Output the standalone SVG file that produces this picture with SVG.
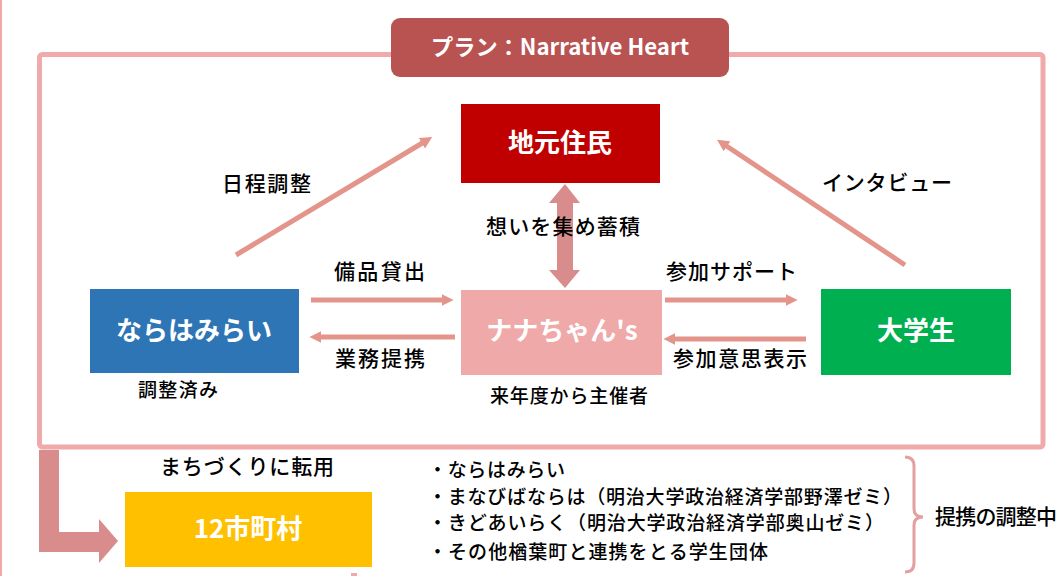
<svg xmlns="http://www.w3.org/2000/svg" width="1064" height="576" viewBox="0 0 1064 576">
<defs>
<style>
.lbl{font-family:"Noto Sans CJK JP","Noto Sans",sans-serif;font-size:21px;font-weight:500;fill:#000;}
.sm{font-size:19px;}
.node{font-family:"Noto Sans CJK JP","Noto Sans",sans-serif;font-size:26px;font-weight:bold;fill:#fff;text-anchor:middle;}
.thin{stroke:#e3958b;stroke-width:5;fill:none;}
.big{fill:#d98c8c;}
</style>
<marker id="ah" viewBox="0 0 10 10" refX="2" refY="5" markerWidth="2.4" markerHeight="2.6" orient="auto" markerUnits="strokeWidth">
<path d="M0,0 L10,5 L0,10 z" fill="#e3958b"/>
</marker>
</defs>
<rect width="1064" height="576" fill="#fff"/>
<line x1="1" y1="0" x2="1" y2="576" stroke="#f0a8a8" stroke-width="2"/>
<g id="frame">
<rect x="39.5" y="54.5" width="1003.5" height="392.5" rx="3" fill="none" stroke="#f0aaaa" stroke-width="5"/>
</g>
<g id="title">
<rect x="391" y="18" width="338" height="59" rx="9" fill="#b85352"/>
<text x="560" y="55" class="node" style="font-size:22px" textLength="258" lengthAdjust="spacingAndGlyphs">プラン：Narrative Heart</text>
</g>
<g id="connectors">
<line class="thin" x1="236" y1="255" x2="424" y2="142" marker-end="url(#ah)"/>
<line class="thin" x1="905" y1="265" x2="725" y2="145" marker-end="url(#ah)"/>
<line class="thin" x1="311" y1="300" x2="444" y2="300" marker-end="url(#ah)"/>
<line class="thin" x1="455" y1="337" x2="319" y2="337" marker-end="url(#ah)"/>
<line class="thin" x1="665" y1="300" x2="788" y2="300" marker-end="url(#ah)"/>
<line class="thin" x1="806" y1="339" x2="673" y2="339" marker-end="url(#ah)"/>
<polygon class="big" points="565,184 580,203 573,203 573,270 580,270 565,288 549,270 557,270 557,203 549,203"/>
<polygon class="big" points="39,450 59,450 59,532 99,532 99,519 118,541 99,563 99,552 39,552"/>
<path d="M905,457 Q914,457 914,466 L914,509 Q914,517 923,517 Q914,517 914,525 L914,563 Q914,572 905,572" fill="none" stroke="#e4a0a0" stroke-width="3"/>
<rect x="351" y="573" width="6" height="3" fill="#f0aaaa"/>
</g>
<g id="n-jimoto">
<rect x="461" y="104" width="199" height="79" fill="#c00000"/>
<text x="560" y="152" class="node">地元住民</text>
</g>
<g id="n-narahamirai">
<rect x="90" y="289" width="209" height="84" fill="#2e75b6"/>
<text x="194" y="340" class="node">ならはみらい</text>
</g>
<g id="n-nana">
<rect x="461" y="290" width="201" height="85" fill="#efa9a9"/>
<text x="562" y="340" class="node">ナナちゃん's</text>
</g>
<g id="n-daigakusei">
<rect x="821" y="289" width="190" height="86" fill="#00b050"/>
<text x="916" y="340" class="node">大学生</text>
</g>
<g id="n-12">
<rect x="125" y="492" width="247" height="75" fill="#ffc000"/>
<text x="248" y="538" class="node">12市町村</text>
</g>
<g id="labels">
<text x="222" y="191" class="lbl" textLength="89">日程調整</text>
<text x="822" y="190" class="lbl" textLength="130">インタビュー</text>
<text x="486" y="234" class="lbl" textLength="154">想いを集め蓄積</text>
<text x="334" y="279" class="lbl" textLength="91">備品貸出</text>
<text x="666" y="279" class="lbl" textLength="131">参加サポート</text>
<text x="335" y="366" class="lbl" textLength="90">業務提携</text>
<text x="673" y="366" class="lbl" textLength="134">参加意思表示</text>
<text x="138" y="397" class="lbl sm" textLength="80">調整済み</text>
<text x="490" y="403" class="lbl sm" textLength="158">来年度から主催者</text>
<text x="160" y="474" class="lbl" textLength="174">まちづくりに転用</text>
<text x="428" y="477" class="lbl sm" textLength="137">・ならはみらい</text>
<text x="428" y="504" class="lbl sm" textLength="474">・まなびばならは（明治大学政治経済学部野澤ゼミ）</text>
<text x="428" y="530" class="lbl sm" textLength="456">・きどあいらく（明治大学政治経済学部奥山ゼミ）</text>
<text x="428" y="559" class="lbl sm" textLength="340">・その他楢葉町と連携をとる学生団体</text>
<text x="935" y="524" class="lbl" textLength="122">提携の調整中</text>
</g>
</svg>
